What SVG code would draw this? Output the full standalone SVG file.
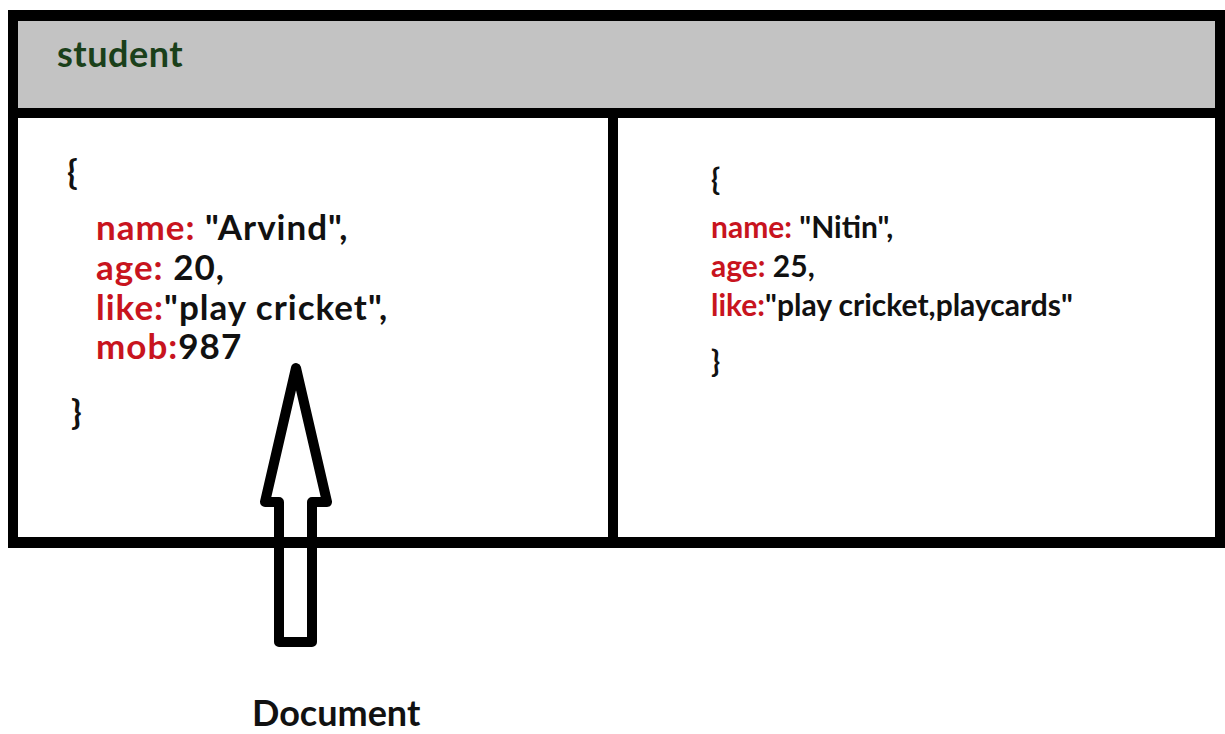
<svg xmlns="http://www.w3.org/2000/svg" width="1225" height="734" viewBox="0 0 1225 734">
<style>
text{font-family:Lato,"Open Sans","Liberation Sans",sans-serif;font-weight:bold}
.k{fill:#c8141e}
.v{fill:#111}
.l{font-size:35px;letter-spacing:1px}
.r{font-size:30px}
.band{fill:#000}
</style>
<rect width="1225" height="734" fill="#fff"/>
<g id="collection">
<rect x="18" y="21" width="1197" height="87" fill="#c3c3c3"/>
<rect class="band" x="8" y="10" width="1217" height="11"/>
<rect class="band" x="8" y="10" width="10" height="538"/>
<rect class="band" x="1215" y="10" width="10" height="538"/>
<rect class="band" x="8" y="108" width="1217" height="10"/>
<text x="57" y="67" font-size="36" fill="#1a401a" letter-spacing="0.5">student</text>
</g>
<g id="doc1">
<text class="l v" x="67" y="184">{</text>
<text class="l" x="96" y="240"><tspan class="k">name:</tspan><tspan class="v"> "Arvind",</tspan></text>
<text class="l" x="96" y="280"><tspan class="k">age:</tspan><tspan class="v"> 20,</tspan></text>
<text class="l" x="96" y="320"><tspan class="k">like:</tspan><tspan class="v">"play cricket",</tspan></text>
<text class="l" x="96" y="359"><tspan class="k">mob:</tspan><tspan class="v">987</tspan></text>
<text class="l v" x="71" y="424">}</text>
</g>
<g id="doc2">
<text class="r v" x="711" y="190">{</text>
<text class="r" x="711" y="238"><tspan class="k">name:</tspan><tspan class="v"> "Nitin",</tspan></text>
<text class="r" x="711" y="277"><tspan class="k">age:</tspan><tspan class="v"> 25,</tspan></text>
<text class="r" x="711" y="316"><tspan class="k">like:</tspan><tspan class="v">"play cricket,playcards"</tspan></text>
<text class="r v" x="711" y="372">}</text>
</g>
<g id="frame">
<rect class="band" x="608" y="118" width="10" height="430"/>
<rect class="band" x="8" y="537" width="1217" height="11"/>
</g>
<g id="connectors">
<path d="M296,368 L327,502 L312,502 L312,642 L279,642 L279,502 L265,502 Z" fill="none" stroke="#000" stroke-width="10" stroke-linejoin="round"/>
</g>
<g id="label">
<text x="252" y="726" font-size="36" fill="#111">Document</text>
</g>
</svg>
